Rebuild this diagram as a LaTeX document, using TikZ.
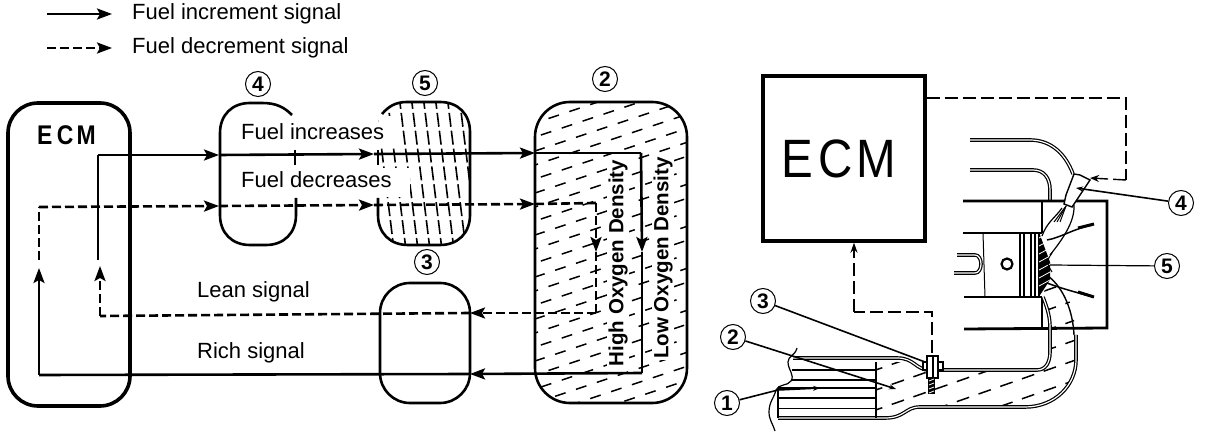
\documentclass[tikz,border=0pt]{standalone}
\usepackage{fontspec}
\usepackage{graphicx}
\setmainfont{Liberation Sans}
\usetikzlibrary{arrows.meta}
\tikzset{
 sig/.style={line width=2.6pt,line join=miter},
 sigd/.style={sig,dash pattern=on 9pt off 4pt},
 tip/.style={-{Stealth[length=15pt,width=11pt,inset=3pt]}},
 box/.style={line width=2.6pt,rounded corners=30pt},
 lab/.style={font=\fontsize{22pt}{24pt}\selectfont,inner sep=0pt,anchor=west},
 labw/.style={lab,fill=white,inner sep=2pt},
 vlab/.style={font=\bfseries\fontsize{20.5pt}{22pt}\selectfont,rotate=90,inner sep=1pt,fill=white},
 num/.style={circle,draw,line width=1pt,inner sep=0pt,minimum size=25pt,font=\bfseries\fontsize{21pt}{22pt}\selectfont},
 hatch/.style={line width=1.5pt,dash pattern=on 11pt off 11pt},
 hatchv/.style={line width=1.6pt,dash pattern=on 14pt off 4pt},
 wall/.style={line width=2.8pt},
 port/.style={double,double distance=1.2pt,line width=1.2pt},
 leader/.style={line width=1.6pt},
 ctl/.style={line width=1.4pt,dash pattern=on 13pt off 5pt},
}
\begin{document}
\begin{tikzpicture}[x=1pt,y=-1pt]
\useasboundingbox (0,0) rectangle (1216,438);
\fill[white] (0,0) rectangle (1216,438);
% ---- legend
\node[lab] (leg1) at (132,14) {Fuel increment signal};
\node[lab] (leg2) at (132,48) {Fuel decrement signal};
\coordinate (leg1s) at (47,14); \coordinate (leg2s) at (47,48);
\draw[sig,line width=2.4pt,tip] (leg1s) -- ([xshift=-20pt]leg1.west);
\draw[sigd,line width=2.4pt,tip] (leg2s) -- ([xshift=-20pt]leg2.west);
% ---- hatching
\begin{scope}
\clip[rounded corners=35pt] (535,102) rectangle (687,403);
\foreach \i in {0,...,32}{
 \pgfmathsetmacro{\ph}{mod(\i,3)*7}
 \draw[hatch,dash phase=\ph pt] (520,{100+\i*14}) -- (700,{100+\i*14-60});
}
\end{scope}
\begin{scope}
\clip[rounded corners=28pt] (377,102) rectangle (470,245);
\foreach \i in {0,...,9}{
 \draw[hatchv] ({375+\i*12},95) -- ({375+\i*12+19},250);
}
\fill[white] (375,116) rectangle (401,148);
\fill[white] (375,168) rectangle (410,197);
\end{scope}
% ---- boxes
\node[num] (n4) at (258,84) {4};
\node[num] (n5) at (425,83) {5};
\node[num] (n2) at (605,79) {2};
\node[num] (n3) at (427,262) {3};
\draw[box,line width=3.6pt] (8,103) rectangle (130,406);
\draw[line width=2.6pt] (292,115) .. controls (284,107) and (276,103) .. (262,103) -- (250,103) .. controls (232,103) and (220,115) .. (220,133) -- (220,215) .. controls (220,233) and (232,245) .. (250,245) -- (266,245) .. controls (284,245) and (296,233) .. (296,215) -- (296,198);
\draw[line width=2pt] (295,150) -- (295,165);
\draw[line width=2.6pt] (382,114) .. controls (388,107) and (395,102) .. (407,102) -- (440,102) .. controls (458,102) and (470,114) .. (470,132) -- (470,215) .. controls (470,233) and (458,245) .. (440,245) -- (408,245) .. controls (390,245) and (378,233) .. (378,215) -- (378,198);
\draw[line width=2pt] (378,150) -- (378,165);
\draw[box] (380,283) rectangle (470,403);
\draw[box,rounded corners=35pt] (535,102) rectangle (687,403);
% ---- labels
\node[lab,font=\bfseries\fontsize{27pt}{28pt}\selectfont] (ecmA) at (37,135) {\scalebox{.85}[1]{E\hspace{5pt}C\hspace{4pt}M}};
\node[labw] (finc) at (239,132) {Fuel increases};
\node[labw] (fdec) at (239,180) {Fuel decreases};
\node[lab] (lean) at (197,292) {Lean signal};
\node[lab] (rich) at (197,353) {Rich signal};
\node[vlab] (hi) at (618,263) {High Oxygen Density};
\node[vlab] (lo) at (663,258) {Low Oxygen Density};
% ---- signal paths
\coordinate (a0) at (98,260); \coordinate (a1) at (98,155);
\coordinate (a2) at (219,155); \coordinate (a3) at (374,154); \coordinate (a4) at (535,153);
\coordinate (a5) at (641,153); \coordinate (a6) at (642,252); \coordinate (a7) at (642,373);
\coordinate (a8) at (470,374); \coordinate (a9) at (39,375); \coordinate (a10) at (39,268);
\coordinate (b0) at (39,260); \coordinate (b1) at (39,207);
\coordinate (b2) at (219,206); \coordinate (b3) at (374,205); \coordinate (b4) at (535,204);
\coordinate (b5) at (596,203); \coordinate (b6) at (596,252); \coordinate (b7) at (596,313);
\coordinate (b8) at (470,313); \coordinate (b9) at (100,316); \coordinate (b10) at (100,266);
\draw[sig] (a0) -- (a1);
\draw[sig,tip] (a1) -- (a2); \draw[sig,tip] (a2) -- (a3); \draw[sig,tip] (a3) -- (a4);
\draw[sig] (a4) -- (a5);
\draw[sig,tip] (a5) -- (a6);
\draw[sig] (a6) -- (a7);
\draw[sig,tip] (a7) -- (a8);
\draw[sig] (a8) -- (a9);
\draw[sig,tip] (a9) -- (a10);
\draw[sigd] (b0) -- (b1);
\draw[sigd,tip] (b1) -- (b2); \draw[sigd,tip] (b2) -- (b3); \draw[sigd,tip] (b3) -- (b4);
\draw[sigd] (b4) -- (b5);
\draw[sigd,tip] (b5) -- (b6);
\draw[sigd] (b6) -- (b7);
\draw[sigd,tip] (b7) -- (b8);
\draw[sigd] (b8) -- (b9);
\draw[sigd,tip] (b9) -- (b10);
% ---- right: ECM
\node[draw,line width=3.4pt,minimum width=162pt,minimum height=165pt,inner sep=0pt,
      font=\fontsize{54pt}{56pt}\selectfont] (ecmB) at (844,158.5) {\scalebox{.88}[1]{E\hspace{6pt}C\hspace{4pt}M\hspace{12pt}}};
% ---- exhaust hatching
\begin{scope}
\clip (876,362) -- (897,362) .. controls (915,362) and (915,372) .. (930,372) -- (1037,372)
   .. controls (1046,372) and (1050,362) .. (1050,352) -- (1050,327) .. controls (1050,315) and (1045,305) .. (1042,297)
   -- (1050,277) .. controls (1062,285) and (1072,300) .. (1074,320) -- (1077,360)
   .. controls (1077,385) and (1055,407) .. (1025,407) -- (920,407) .. controls (905,407) and (905,418) .. (885,418) -- (876,418) -- cycle;
\foreach \i in {0,...,14}{
 \draw[hatch,dash pattern=on 13pt off 10pt] (870,{352+\i*20}) -- (1090,{352+\i*20-77});
}
\end{scope}
% ---- engine
\draw[port] (970,140) -- (1030,140) .. controls (1052,140) and (1066,155) .. (1073,174);
\draw[port] (970,170) -- (1033,170) .. controls (1044,170) and (1050,178) .. (1050,190) -- (1050,202);
\draw[wall] (963,201) -- (1107,201) -- (1107,328) -- (964,329);
\draw[wall] (963,233) -- (1042,233);
\draw[wall] (964,297) -- (1042,297);
\draw[line width=1.4pt] (1042,201) -- (1042,233);
\draw[line width=1.4pt] (1042,297) -- (1042,328);
\draw[line width=1pt] (983,233) -- (985,297);
\foreach \x/\w in {1020/2.4,1024/2.4,1031/2.4,1035/2.4,1039/2.6}{
 \draw[line width=\w pt] (\x,233) -- (\x,297);
}
\draw[line width=2.2pt] (1007,264) circle (5.5pt);
\draw[port] (957,255) -- (975,255) .. controls (983,255) and (983,273) .. (975,273) -- (954,273);
% combustion
\fill[black] (1040,235) -- (1050,262) -- (1050,280) -- (1040,295) -- cycle;
\foreach \i in {0,...,6}{
 \draw[white,line width=.8pt] (1039,{238+\i*8}) -- (1050,{232+\i*8});
}
% injector and spray
\draw[line width=1.4pt,fill=white] (1074,174) -- (1080,175) -- (1090,180) -- (1072,207) -- (1064,204) -- (1066,195) -- cycle;
\draw[line width=1.2pt] (1062,208) .. controls (1055,218) and (1047,222) .. (1042,236);
\draw[line width=1.2pt] (1074,205) .. controls (1075,222) and (1062,240) .. (1050,255);
\foreach \dx in {0,3,6}{
 \draw[line width=1pt] (1066,206) -- ({1054+\dx},222);
}
\draw[line width=1pt] (1052,272) .. controls (1046,262) and (1046,262) .. (1052,253);
\draw[line width=1.5pt] (1047,240) .. controls (1060,238) and (1075,228) .. (1093,225);
\draw[line width=3pt] (1078,228) -- (1094,224);
\draw[line width=1.5pt] (1047,283) .. controls (1060,288) and (1075,292) .. (1093,297);
\draw[line width=3pt] (1078,292) -- (1094,297);
% exhaust walls
\draw[port] (793,358) -- (897,358) .. controls (915,358) and (915,370) .. (930,370) -- (1037,370)
   .. controls (1046,370) and (1050,362) .. (1050,352) -- (1050,327) .. controls (1050,315) and (1046,305) .. (1043,297);
\draw[port] (778,418) -- (885,418) .. controls (905,418) and (905,407) .. (920,407) -- (1025,407)
   .. controls (1055,407) and (1076,385) .. (1076,360) -- (1076,335);
\draw[line width=1.4pt] (1074,335) .. controls (1073,312) and (1064,288) .. (1048,276);
% catalyst
\draw[line width=1.4pt] (876,362) -- (876,418);
\draw[line width=1.4pt] (792,370) -- (876,370);
\draw[line width=1.8pt] (792,380) -- (876,380);
\draw[line width=1.8pt] (778,388) -- (876,388);
\draw[line width=1.8pt] (778,398) -- (876,398);
\draw[line width=.8pt] (778,408) -- (876,408);
\draw[line width=1.8pt] (778,388) -- (778,418);
\draw[line width=1.2pt] (797,348) .. controls (795,356) and (788,356) .. (788,362) .. controls (788,370) and (795,375) .. (791,381)
  .. controls (788,386) and (778,384) .. (776,390) .. controls (774,398) and (769,402) .. (769,412) .. controls (769,420) and (773,424) .. (775,431);
% sensor
\coordinate (senT) at (932,353);
\draw[line width=2pt,fill=white] (923,362) rectangle (943,370);
\draw[line width=2pt,fill=white] (927,356) rectangle (938,378);
\draw[line width=1.6pt] (933,356) -- (933,378);
\fill[black] (928,378) rectangle (935,394);
\foreach \i in {0,...,3}{\draw[white,line width=.8pt] (929,{381+\i*4}) -- (934,{379+\i*4});}
% control lines
\coordinate (c1) at (1126,98); \coordinate (c2) at (1126,180); \coordinate (c3) at (1090,178);
\draw[ctl] ([yshift=60.5pt]ecmB.east) -- (c1) -- (c2);
\draw[ctl,-{Stealth[length=9pt,width=7pt,open]}] (c2) -- (c3);
\coordinate (d1) at (932,312); \coordinate (d2) at (854,312);
\draw[ctl] (senT) -- (d1) -- (d2);
\draw[ctl,-{Stealth[length=10pt,width=7pt,open]}] (d2) -- (ecmB.south -| d2);
% callouts
\node[num] (m1) at (727,403) {1};
\node[num] (m2) at (733,337) {2};
\node[num] (m3) at (763,301) {3};
\node[num] (m4) at (1181,203) {4};
\node[num] (m5) at (1167,266) {5};
\coordinate (t1) at (820,388); \coordinate (t2) at (896,389); \coordinate (t3) at (925,362);
\coordinate (t4) at (1076,188); \coordinate (t5) at (1050,265);
\draw[leader,-{Stealth[length=7pt,width=5pt]}] (m1) -- (778,390) -- (t1);
\draw[leader,-{Stealth[length=7pt,width=5pt]}] (m2) -- (t2);
\draw[leader] (m3) -- (t3);
\draw[leader,-{Stealth[length=7pt,width=5pt]}] (m4) -- (t4);
\draw[line width=1.2pt] (m5) -- (t5);
\end{tikzpicture}
\end{document}
